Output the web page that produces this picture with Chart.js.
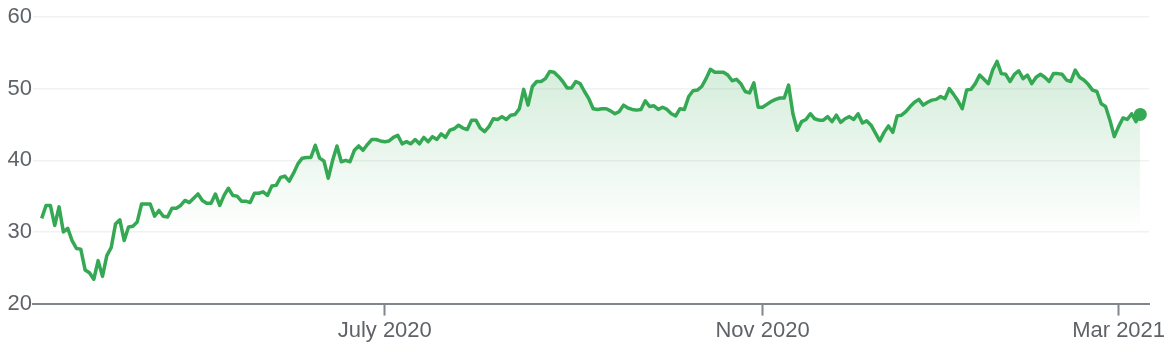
<!DOCTYPE html>
<html>
<head>
<meta charset="utf-8">
<title>Price chart</title>
<script src="https://cdn.jsdelivr.net/npm/chart.js@4.4.1/dist/chart.umd.min.js"></script>
<style>
    html, body { margin: 0; padding: 0; background: #ffffff; }
    #wrap { width: 1172px; height: 346px; position: relative; }
</style>
</head>
<body>
<div id="wrap"><canvas id="chart"></canvas></div>
<script>
// Daily closing prices, one entry per trading day (Mar 2020 - Mar 2021)
const prices = [
    31.9, 33.7, 33.7, 30.9, 33.5, 30.0, 30.5, 28.8, 27.7, 27.6,
    24.7, 24.3, 23.4, 26.0, 23.8, 26.7, 27.8, 31.1, 31.7, 28.8,
    30.7, 30.8, 31.4, 33.9, 33.9, 33.9, 32.2, 33.0, 32.2, 32.1,
    33.3, 33.3, 33.7, 34.4, 34.1, 34.7, 35.3, 34.4, 34.0, 34.0,
    35.3, 33.7, 35.1, 36.1, 35.1, 35.0, 34.3, 34.3, 34.1, 35.4,
    35.4, 35.6, 35.1, 36.4, 36.5, 37.6, 37.8, 37.1, 38.2, 39.5,
    40.3, 40.4, 40.4, 42.1, 40.3, 39.9, 37.5, 40.0, 42.0, 39.8,
    40.0, 39.8, 41.4, 42.0, 41.4, 42.2, 42.9, 42.9, 42.7, 42.6,
    42.7, 43.2, 43.5, 42.3, 42.6, 42.3, 42.9, 42.3, 43.2, 42.6,
    43.3, 42.9, 43.7, 43.2, 44.2, 44.4, 44.9, 44.5, 44.3, 45.6,
    45.6, 44.5, 44.0, 44.7, 45.8, 45.7, 46.1, 45.7, 46.3, 46.4,
    47.2, 49.9, 47.7, 50.3, 51.0, 51.0, 51.4, 52.4, 52.3, 51.7,
    51.0, 50.1, 50.1, 51.0, 50.7, 49.6, 48.6, 47.2, 47.1, 47.2,
    47.2, 46.9, 46.5, 46.8, 47.7, 47.3, 47.1, 47.0, 47.1, 48.3,
    47.5, 47.6, 47.1, 47.4, 47.1, 46.5, 46.2, 47.2, 47.1, 48.9,
    49.7, 49.8, 50.3, 51.4, 52.7, 52.3, 52.3, 52.3, 51.9, 51.1,
    51.3, 50.7, 49.6, 49.4, 50.8, 47.4, 47.4, 47.8, 48.2, 48.5,
    48.7, 48.7, 50.5, 46.5, 44.2, 45.4, 45.7, 46.5, 45.8, 45.6,
    45.6, 46.1, 45.4, 46.3, 45.3, 45.8, 46.1, 45.7, 46.5, 45.2,
    45.5, 44.9, 43.8, 42.7, 43.9, 44.8, 43.9, 46.2, 46.3, 46.8,
    47.5, 48.1, 48.5, 47.7, 48.1, 48.4, 48.5, 48.9, 48.6, 50.0,
    49.2, 48.3, 47.2, 49.8, 49.9, 50.7, 51.9, 51.3, 50.7, 52.6,
    53.8, 52.1, 52.0, 51.0, 52.0, 52.5, 51.4, 51.9, 50.7, 51.6,
    52.0, 51.6, 51.0, 52.1, 52.1, 52.0, 51.2, 51.0, 52.6, 51.6,
    51.2, 50.6, 49.8, 49.6, 47.9, 47.5, 45.6, 43.3, 44.7, 45.9,
    45.7, 46.5, 45.4, 46.4
];

// Month markers on the x axis (trading-day index of the first day of the month)
const monthIndex = [79, 166, 248];
const monthLabels = ['July 2020', 'Nov 2020', 'Mar 2021'];

const priceTicks = [20, 30, 40, 50, 60];

const GREEN = '#34a853';
const TEXT = '#5f6368';
const AXIS = '#80868b';

const points = prices.map((p, i) => ({ x: i, y: p }));
const lastIndex = prices.length - 1;

function areaFill(context) {
    const chart = context.chart;
    const area = chart.chartArea;
    if (!area) return 'rgba(52, 168, 83, 0.1)';
    const y0 = chart.scales.y.getPixelForValue(54);
    const y1 = chart.scales.y.getPixelForValue(30);
    const grad = chart.ctx.createLinearGradient(0, y0, 0, y1);
    grad.addColorStop(0, 'rgba(52, 168, 83, 0.22)');
    grad.addColorStop(1, 'rgba(52, 168, 83, 0)');
    return grad;
}

const ctx = document.getElementById('chart').getContext('2d');
new Chart(ctx, {
    type: 'line',
    data: {
        datasets: [{
            data: points,
            borderColor: GREEN,
            borderWidth: 3.5,
            borderJoinStyle: 'round',
            backgroundColor: areaFill,
            fill: 'start',
            tension: 0,
            pointRadius: (c) => c.dataIndex === lastIndex ? 6.5 : 0,
            pointBackgroundColor: GREEN,
            pointBorderWidth: 0,
            pointHoverRadius: 0
        }]
    },
    options: {
        responsive: true,
        maintainAspectRatio: false,
        animation: false,
        layout: { padding: { top: 17, right: 23, left: 0, bottom: 0 } },
        plugins: {
            legend: { display: false },
            tooltip: { enabled: false }
        },
        scales: {
            x: {
                type: 'linear',
                min: -2,
                max: lastIndex + 2,
                afterBuildTicks: (scale) => {
                    scale.ticks = monthIndex.map(v => ({ value: v }));
                },
                ticks: {
                    autoSkip: false,
                    maxRotation: 0,
                    padding: 2,
                    color: TEXT,
                    font: { family: '"Liberation Sans", Arial, sans-serif', size: 22 },
                    callback: (v) => monthLabels[monthIndex.indexOf(v)]
                },
                grid: {
                    drawOnChartArea: false,
                    drawTicks: true,
                    tickLength: 12,
                    tickColor: AXIS,
                    tickWidth: 2
                },
                border: { display: true, color: AXIS, width: 2 }
            },
            y: {
                min: 20,
                max: 60,
                afterBuildTicks: (scale) => {
                    scale.ticks = priceTicks.map(v => ({ value: v }));
                },
                afterFit: (scale) => { scale.width = 33; },
                ticks: {
                    padding: 1,
                    color: TEXT,
                    font: { family: '"Liberation Sans", Arial, sans-serif', size: 22 }
                },
                grid: {
                    color: '#f1f1f1',
                    lineWidth: 1.5,
                    drawTicks: false
                },
                border: { display: false }
            }
        }
    }
});
</script>
</body>
</html>
